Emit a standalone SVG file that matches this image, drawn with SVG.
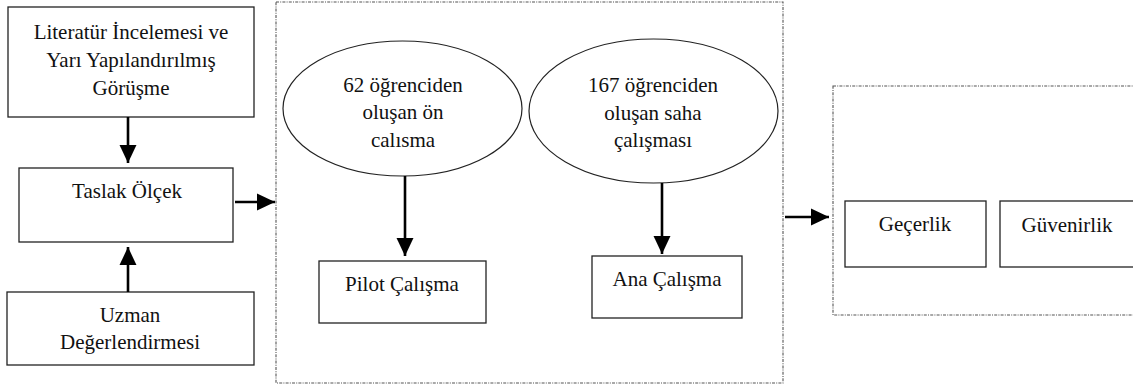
<svg xmlns="http://www.w3.org/2000/svg" width="1133" height="388" viewBox="0 0 1133 388">
<style>
  .box { fill: #fff; stroke: #222; stroke-width: 1.3; }
  .ell { fill: #fff; stroke: #222; stroke-width: 1.2; }
  .grp { fill: none; stroke: #555; stroke-width: 1.1; stroke-dasharray: 3 1.2 1 1.2; }
  .t { font-family: "Liberation Serif", "Times New Roman", serif; font-size: 21px; fill: #111; text-anchor: middle; }
  .conn line { stroke: #000; stroke-width: 2.6; marker-end: url(#ah); }
</style>
<defs>
  <marker id="ah" markerUnits="userSpaceOnUse" markerWidth="18" markerHeight="18" viewBox="0 0 17 16" refX="17" refY="8" orient="auto">
    <path d="M0,0 L17,8 L0,16 z" fill="#000"/>
  </marker>
</defs>
<rect width="1133" height="388" fill="#fff"/>

<g id="group-study">
  <rect class="grp" x="276" y="2" width="507" height="381"/>
</g>
<g id="group-analysis">
  <rect class="grp" x="833" y="86" width="310" height="229"/>
</g>

<g id="n-literatur">
  <rect class="box" x="8" y="7" width="246" height="110"/>
  <text class="t" x="131" y="39">Literatür İncelemesi ve</text>
  <text class="t" x="131" y="67">Yarı Yapılandırılmış</text>
  <text class="t" x="131" y="95">Görüşme</text>
</g>
<g id="n-taslak">
  <rect class="box" x="19" y="168" width="214" height="74"/>
  <text class="t" x="127" y="198">Taslak Ölçek</text>
</g>
<g id="n-uzman">
  <rect class="box" x="7" y="292" width="247" height="73"/>
  <text class="t" x="130" y="322">Uzman</text>
  <text class="t" x="130" y="349">Değerlendirmesi</text>
</g>
<g id="n-on-calisma">
  <ellipse class="ell" cx="402.5" cy="108.5" rx="119.5" ry="67.5"/>
  <text class="t" x="403" y="92">62 öğrenciden</text>
  <text class="t" x="403" y="119">oluşan ön</text>
  <text class="t" x="403" y="147">calısma</text>
</g>
<g id="n-saha-calismasi">
  <ellipse class="ell" cx="653.5" cy="111" rx="124.5" ry="72"/>
  <text class="t" x="653" y="92">167 öğrenciden</text>
  <text class="t" x="653" y="120">oluşan saha</text>
  <text class="t" x="653" y="147">çalışması</text>
</g>
<g id="n-pilot">
  <rect class="box" x="319" y="261" width="167" height="62"/>
  <text class="t" x="402" y="291">Pilot Çalışma</text>
</g>
<g id="n-ana">
  <rect class="box" x="592" y="256" width="150" height="62"/>
  <text class="t" x="667" y="286">Ana Çalışma</text>
</g>
<g id="n-gecerlik">
  <rect class="box" x="845" y="201" width="141" height="66"/>
  <text class="t" x="915" y="231">Geçerlik</text>
</g>
<g id="n-guvenirlik">
  <rect class="box" x="1000" y="201" width="150" height="66"/>
  <text class="t" x="1067" y="232">Güvenirlik</text>
</g>

<g id="connectors" class="conn">
  <line x1="128" y1="117" x2="128" y2="163"/>
  <line x1="128" y1="292" x2="128" y2="247"/>
  <line x1="235" y1="202" x2="275" y2="202"/>
  <line x1="405" y1="176" x2="405" y2="256"/>
  <line x1="662" y1="183" x2="662" y2="254"/>
  <line x1="785" y1="217" x2="829" y2="217"/>
</g>
</svg>
